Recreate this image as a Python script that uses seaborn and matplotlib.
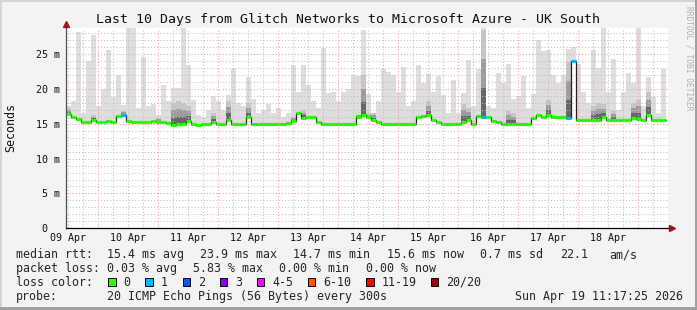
import numpy as np
import pandas as pd
import matplotlib
matplotlib.use("Agg")
import matplotlib.pyplot as plt
import matplotlib.dates as mdates
from matplotlib.patches import Rectangle
from matplotlib.ticker import MultipleLocator, FuncFormatter, NullFormatter, FixedLocator, FixedFormatter
import seaborn as sns

# ---------------- data ----------------
TITLE = "Last 10 Days from Glitch Networks to Microsoft Azure - UK South"
START = "2026-04-09 11:17:25"
STEP = "2h"

median_ms = [
    16.4, 16.0, 15.7, 15.3, 15.3, 15.5, 15.3, 15.3, 15.4, 15.3,
    16.1, 16.3, 15.4, 15.3, 15.3, 15.3, 15.3, 15.4, 15.3, 15.3,
    15.1, 14.8, 14.9, 14.9, 15.4, 15.0, 14.8, 14.9, 15.0, 15.3,
    15.0, 15.0, 15.6, 15.0, 15.0, 15.0, 15.9, 15.0, 15.0, 15.0,
    15.0, 15.0, 15.0, 15.0, 15.1, 15.4, 16.6, 15.8, 15.9, 16.0,
    15.2, 15.0, 15.0, 15.0, 15.0, 15.0, 15.0, 15.0, 16.0, 16.2,
    16.0, 15.6, 15.3, 15.0, 15.0, 15.0, 15.0, 15.0, 15.0, 15.0,
    16.0, 16.1, 16.2, 15.6, 15.2, 15.0, 15.0, 15.0, 15.0, 15.3,
    15.5, 15.0, 16.1, 16.0, 16.0, 15.4, 15.2, 15.0, 15.0, 15.0,
    15.0, 15.0, 15.0, 15.8, 16.2, 16.0, 16.3, 16.0, 15.9, 15.9,
    15.8, 24.0, 15.6, 15.6, 15.6, 15.6, 15.6, 15.9, 15.6, 15.6,
    15.6, 15.6, 15.6, 15.8, 15.7, 15.6, 16.3, 15.6, 15.6, 15.6,
]

smoke_top_ms = [
    17.5, 18.2, 28.2, 16.5, 24.0, 27.7, 17.5, 20.0, 25.6, 18.8,
    22.0, 17.7, 28.7, 28.7, 17.3, 24.6, 17.5, 17.9, 16.3, 20.5,
    18.2, 20.2, 20.2, 28.7, 23.5, 18.4, 16.3, 16.0, 17.0, 19.0,
    18.2, 17.0, 19.2, 22.9, 18.0, 17.5, 21.7, 18.6, 16.5, 17.0,
    17.9, 16.5, 17.2, 16.0, 16.5, 23.5, 19.6, 23.5, 20.5, 18.2,
    17.2, 25.9, 19.4, 19.6, 18.2, 19.6, 20.0, 22.0, 21.8, 28.5,
    19.3, 16.5, 18.2, 22.9, 22.4, 22.0, 19.5, 23.2, 17.6, 18.2,
    23.5, 20.8, 22.1, 19.6, 21.9, 19.2, 16.5, 21.3, 16.5, 19.4,
    24.2, 17.5, 22.8, 28.7, 17.5, 17.2, 22.3, 20.8, 23.6, 18.5,
    19.0, 21.9, 17.2, 19.3, 27.0, 25.4, 25.6, 22.0, 20.8, 22.0,
    25.7, 26.0, 23.6, 19.6, 18.0, 25.6, 23.0, 28.7, 19.5, 24.3,
    17.0, 19.6, 22.3, 20.8, 28.7, 17.5, 21.7, 18.8, 16.5, 22.8,
]

smoke_dense_ms = [
    17.2, 0, 0, 0, 0, 16.3, 0, 0, 0, 0,
    0, 16.8, 0, 0, 0, 0, 0, 0, 15.8, 0,
    0, 18.0, 18.3, 18.0, 17.5, 0, 0, 0, 0, 16.5,
    0, 0, 18.3, 0, 0, 0, 18.0, 0, 0, 0,
    0, 0, 0, 0, 0, 16.0, 16.5, 17.0, 0, 0,
    0, 0, 0, 0, 0, 0, 0, 0, 16.3, 22.0,
    16.5, 16.5, 0, 0, 0, 0, 0, 0, 0, 0,
    0, 0, 18.2, 0, 0, 0, 0, 0, 0, 17.9,
    17.2, 0, 0, 28.5, 0, 0, 0, 0, 16.8, 16.5,
    0, 0, 0, 0, 0, 0, 18.4, 0, 0, 0,
    23.8, 0, 0, 0, 0, 17.5, 18.0, 17.8, 0, 16.8,
    0, 0, 0, 18.0, 18.4, 0, 19.5, 0, 0, 0,
]

loss_count = [
    0, 0, 0, 0, 0, 0, 0, 0, 0, 0,
    0, 1, 0, 0, 0, 0, 0, 0, 0, 0,
    0, 0, 0, 0, 0, 0, 0, 0, 0, 0,
    0, 0, 0, 0, 0, 0, 0, 0, 0, 0,
    0, 0, 0, 0, 0, 0, 0, 0, 0, 0,
    0, 0, 0, 0, 0, 0, 0, 0, 0, 0,
    0, 0, 0, 0, 0, 0, 0, 0, 0, 0,
    0, 0, 0, 0, 0, 0, 0, 0, 0, 0,
    0, 0, 0, 1, 0, 0, 0, 0, 0, 0,
    0, 0, 0, 0, 0, 0, 0, 0, 0, 0,
    1, 1, 0, 0, 0, 0, 0, 0, 0, 0,
    0, 0, 0, 0, 0, 0, 0, 0, 0, 0,
]

loss_labels = ["0", "1", "2", "3", "4-5", "6-10", "11-19", "20/20"]
loss_upper = [0, 1, 2, 3, 5, 10, 19, 20]
loss_colors = ["#26ff00", "#00b8ff", "#0059ff", "#7e00ff", "#ff00ff", "#ff5500", "#ff0000", "#a00000"]

ytick_values = [0, 5, 10, 15, 20, 25]
ytick_labels = ["0  ", "5 m", "10 m", "15 m", "20 m", "25 m"]

rtt_stats = ["15.4 ms avg", "23.9 ms max", "14.7 ms min", "15.6 ms now", "0.7 ms sd", "22.1", "am/s"]
loss_stats = ["0.03 % avg", "5.83 % max", "0.00 % min", "0.00 % now"]
probe_text = "20 ICMP Echo Pings (56 Bytes) every 300s"
stamp_text = "Sun Apr 19 11:17:25 2026"

assert len(median_ms) == len(smoke_top_ms) == len(smoke_dense_ms) == len(loss_count) == 120

# ---------------- style ----------------
sns.set_style("white")
plt.rcParams["font.family"] = ["DejaVu Sans Mono", "DejaVu Sans"]

W, H = 697, 310
def fx(px):
    return px / W
def fy(py):
    return 1 - py / H

fig = plt.figure(figsize=(W / 100, H / 100), dpi=100, facecolor="#f3f3f3")
ax_left, ax_right, ax_top, ax_bot = 66.3, 667.7, 28.3, 228.3
ax = fig.add_axes([fx(ax_left), fy(ax_bot), (ax_right - ax_left) / W, (ax_bot - ax_top) / H])
ax.set_facecolor("white")

times = pd.date_range(START, periods=len(median_ms) + 1, freq=STEP)
t = mdates.date2num(times.to_pydatetime())
med = np.array(median_ms, dtype=float)
top = np.array(smoke_top_ms, dtype=float)
dense = np.maximum(np.array(smoke_dense_ms, dtype=float), med)

def ext(a):
    return np.append(a, a[-1])

# smoke
ax.fill_between(t, ext(med - 0.25), ext(top), step="post", color="#dedede", lw=0, zorder=1)
for frac, col in [(1.0, "#c6c6c6"), (0.66, "#9c9c9c"), (0.33, "#666666")]:
    ax.fill_between(t, ext(med), ext(med + frac * (dense - med)), step="post", color=col, lw=0, zorder=2)

# median line (dark step) + loss coloured bands
df = pd.DataFrame({"time": t, "median": ext(med)})
sns.lineplot(data=df, x="time", y="median", drawstyle="steps-post", color="#202020",
             lw=0.9, ax=ax, estimator=None, zorder=4)

def loss_color(n):
    for up, c in zip(loss_upper, loss_colors):
        if n <= up:
            return c
    return loss_colors[-1]

ax.hlines(med, t[:-1], t[1:], colors=[loss_color(n) for n in loss_count], lw=2.3, zorder=5)

# axes limits
span_days = (times[-1] - times[0]).total_seconds() / 86400
ax.set_xlim(t[0], t[0] + span_days * (ax_right - ax_left) / 600.0)
ax.set_ylim(0, 28.7)
ax.set_xlabel("")
ax.set_ylabel("")

# grid & ticks
ax.xaxis.set_major_locator(mdates.DayLocator())
ax.xaxis.set_minor_locator(mdates.HourLocator(byhour=[0, 6, 12, 18]))
ax.xaxis.set_major_formatter(NullFormatter())

def xfmt(v, pos):
    d = mdates.num2date(v)
    return d.strftime("%d %b") if d.hour == 12 else ""
ax.xaxis.set_minor_formatter(FuncFormatter(xfmt))

ax.yaxis.set_major_locator(FixedLocator(ytick_values))
ax.yaxis.set_major_formatter(FixedFormatter(ytick_labels))
ax.yaxis.set_minor_locator(MultipleLocator(1))

ax.grid(which="major", color="#f0a0a0", ls=(0, (1, 2)), lw=0.75, zorder=3)
ax.grid(which="minor", color="#c0c0c0", ls=(0, (1, 2)), lw=0.75, zorder=3)
ax.set_axisbelow(False)
for gl in ax.get_xgridlines() + ax.get_ygridlines():
    gl.set_zorder(3)

ax.tick_params(axis="x", which="major", direction="inout", length=4, width=0.75,
               color="#e07070", labelbottom=False)
ax.tick_params(axis="x", which="minor", direction="inout", length=3, width=0.75,
               color="#a8a8a8", labelsize=7.2, pad=2.2, labelcolor="#111111")
ax.tick_params(axis="y", which="major", direction="inout", length=4, width=0.75,
               color="#e07070", labelsize=7.2, pad=2.5, labelcolor="#111111")
ax.tick_params(axis="y", which="minor", direction="inout", length=3, width=0.75, color="#a8a8a8")

for s in ["top", "right"]:
    ax.spines[s].set_visible(False)
ax.spines["bottom"].set_color("#000000")
ax.spines["bottom"].set_linewidth(0.9)
ax.spines["left"].set_color("#505050")
ax.spines["left"].set_linewidth(0.9)
ax.spines["bottom"].set_zorder(6)
ax.spines["left"].set_zorder(6)

# axis arrows
xa_end = (671.5 - ax_left) / (ax_right - ax_left)
ya_end = (ax_bot - 23.5) / (ax_bot - ax_top)
ax.plot([1.0, xa_end], [0, 0], transform=ax.transAxes, color="#000000", lw=0.9, clip_on=False, zorder=6)
ax.plot([xa_end], [0], transform=ax.transAxes, marker=">", color="#a01515", ms=4.2, clip_on=False, zorder=7)
ax.plot([0, 0], [1.0, ya_end], transform=ax.transAxes, color="#505050", lw=0.9, clip_on=False, zorder=6)
ax.plot([0], [ya_end], transform=ax.transAxes, marker="^", color="#a01515", ms=4.2, clip_on=False, zorder=7)

# ---------------- texts ----------------
fig.text(fx(347.5), fy(23.3), TITLE, fontsize=9.5, ha="center", va="baseline", color="#111111")
fig.text(fx(10.5), fy(127.4), "Seconds", rotation=90, fontsize=8.4, ha="center", va="center", color="#111111")
fig.text(fx(688.5), fy(58.5), "RRDTOOL / TOBI OETIKER", rotation=270, fontsize=5.7,
         ha="center", va="center", color="#b0b0b0")

FS = 8.4
row_base = [258.3, 272.3, 285.7, 300.3]
fig.text(fx(16), fy(row_base[0]), "median rtt:", fontsize=FS, va="baseline")
for s, x in zip(rtt_stats, [107.3, 200, 293.3, 386.7, 480.4, 559.9, 609]):
    fig.text(fx(x), fy(row_base[0]), s, fontsize=FS, va="baseline")
fig.text(fx(16), fy(row_base[1]), "packet loss:", fontsize=FS, va="baseline")
for s, x in zip(loss_stats, [107.3, 193.3, 279.3, 366]):
    fig.text(fx(x), fy(row_base[1]), s, fontsize=FS, va="baseline")
fig.text(fx(16), fy(row_base[2]), "loss color:", fontsize=FS, va="baseline")
for lab, col, x in zip(loss_labels, loss_colors, [108, 145.3, 182.5, 219.5, 256.7, 307.9, 366.1, 430.9]):
    fig.add_artist(Rectangle((fx(x), fy(285.5)), 7.5 / W, 8 / H, transform=fig.transFigure,
                             facecolor=col, edgecolor="#000000", lw=0.7))
    fig.text(fx(x + 15.5), fy(row_base[2]), lab, fontsize=FS, va="baseline")
fig.text(fx(16), fy(row_base[3]), "probe:", fontsize=FS, va="baseline")
fig.text(fx(107.3), fy(row_base[3]), probe_text, fontsize=FS, va="baseline")
fig.text(fx(514.8), fy(row_base[3]), stamp_text, fontsize=FS, va="baseline")

# frame
fig.add_artist(Rectangle((0, fy(2)), 1, 2 / H, transform=fig.transFigure, color="#d4d4d4", lw=0))
fig.add_artist(Rectangle((0, 0), 2 / W, 1, transform=fig.transFigure, color="#d4d4d4", lw=0))
fig.add_artist(Rectangle((fx(695), 0), 2 / W, 1, transform=fig.transFigure, color="#a0a0a0", lw=0))
fig.add_artist(Rectangle((0, 0), 1, 3 / H, transform=fig.transFigure, color="#a0a0a0", lw=0))

fig.savefig("out.png", dpi=100, facecolor=fig.get_facecolor())
